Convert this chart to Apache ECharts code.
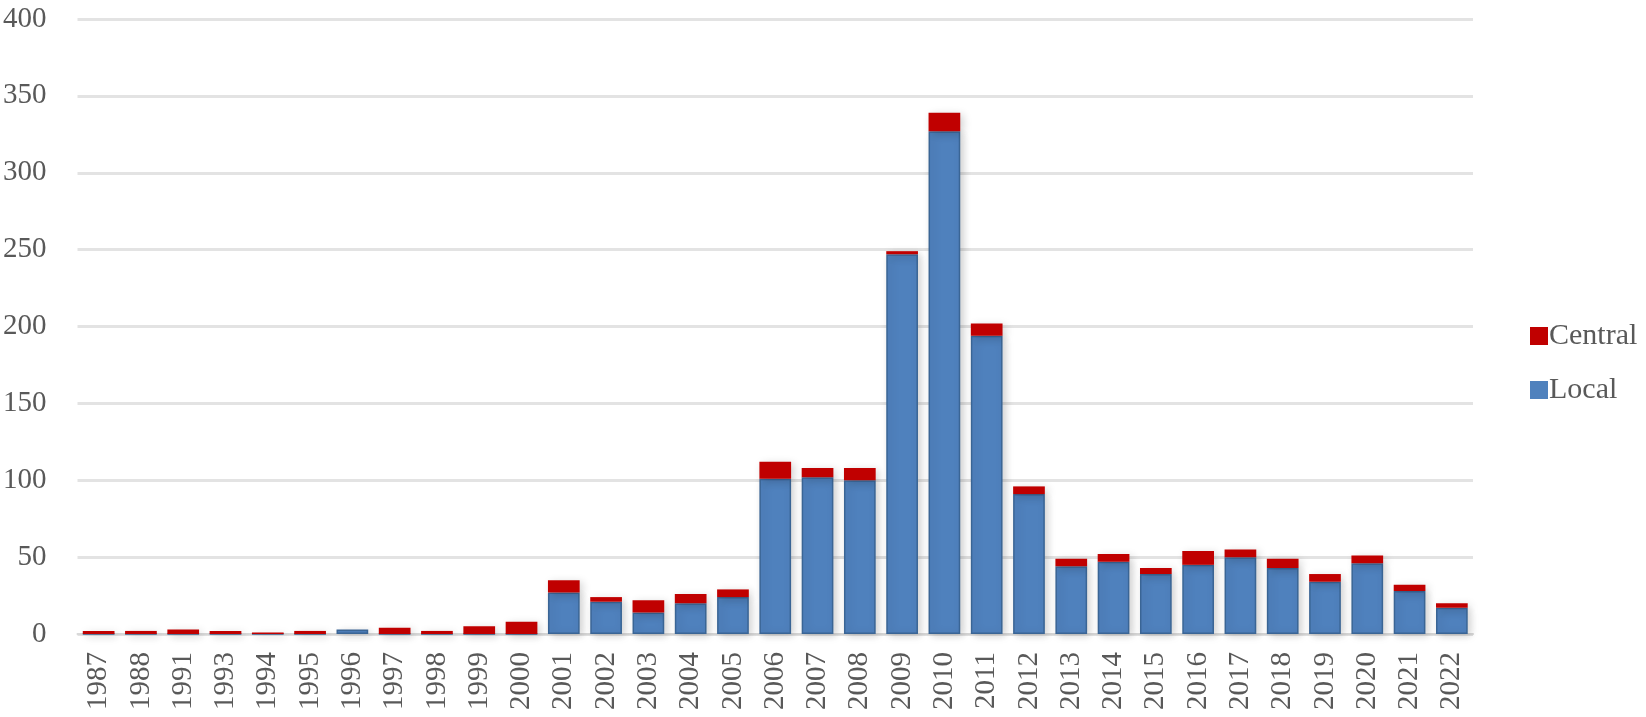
<!DOCTYPE html>
<html><head><meta charset="utf-8">
<script src="https://cdn.jsdelivr.net/npm/echarts@6/dist/echarts.min.js"></script>
<style>html,body{margin:0;padding:0;background:#fff}#c{width:1646px;height:717px}</style>
</head><body><div id="c"></div>
<script>
var years = ['1987','1988','1991','1993','1994','1995','1996','1997','1998','1999','2000','2001','2002','2003','2004','2005','2006','2007','2008','2009','2010','2011','2012','2013','2014','2015','2016','2017','2018','2019','2020','2021','2022'];
var local   = [0,0,0,0,0,0,3,0,0,0,0,27,21,14,20,24,101,102,100,247,327,194,91,44,47,39,45,50,43,34,46,28,17];
var central = [2,2,3,2,1,2,0,4,2,5,8,8,3,8,6,5,11,6,8,2,12,8,5,5,5,4,9,5,6,5,5,4,3];
var yTicks = [0,50,100,150,200,250,300,350,400];

var font = 'Liberation Serif, Times New Roman, serif';
var chart = echarts.init(document.getElementById('c'));
var shadow = {shadowColor:'rgba(0,0,0,0.18)', shadowBlur:8, shadowOffsetX:3, shadowOffsetY:2};
chart.setOption({
  animation:false,
  grid:{left:77,right:173,top:19,bottom:83},
  legend:{
    orient:'vertical', left:1525, top:316, itemGap:24, itemWidth:18, itemHeight:18,
    icon:'rect',
    data:['Central','Local'],
    itemStyle:{borderWidth:0, shadowBlur:0, shadowOffsetX:0, shadowOffsetY:0},
    textStyle:{fontFamily:font, fontSize:30, color:'#595959', padding:[0,0,0,-4]}
  },
  xAxis:{
    type:'category', data:years,
    axisTick:{show:false},
    axisLine:{lineStyle:{color:'#d9d9d9', width:2}},
    axisLabel:{rotate:90, interval:0, fontFamily:font, fontSize:29, color:'#595959', margin:18}
  },
  yAxis:{
    type:'value', min:yTicks[0], max:yTicks[yTicks.length-1], interval:50,
    axisLine:{show:false}, axisTick:{show:false},
    splitLine:{lineStyle:{color:'#e3e3e3', width:3}},
    axisLabel:{fontFamily:font, fontSize:29, color:'#595959', margin:31}
  },
  series:[
    {name:'Local', type:'bar', stack:'t', data:local, barCategoryGap:'25%',
     itemStyle:Object.assign({color:'#4f81bd', borderColor:'#3a6595', borderWidth:1.5}, shadow)},
    {name:'Central', type:'bar', stack:'t', data:central,
     itemStyle:Object.assign({color:'#c00000', borderColor:'#c00000', borderWidth:0}, shadow)}
  ]
});
</script></body></html>
